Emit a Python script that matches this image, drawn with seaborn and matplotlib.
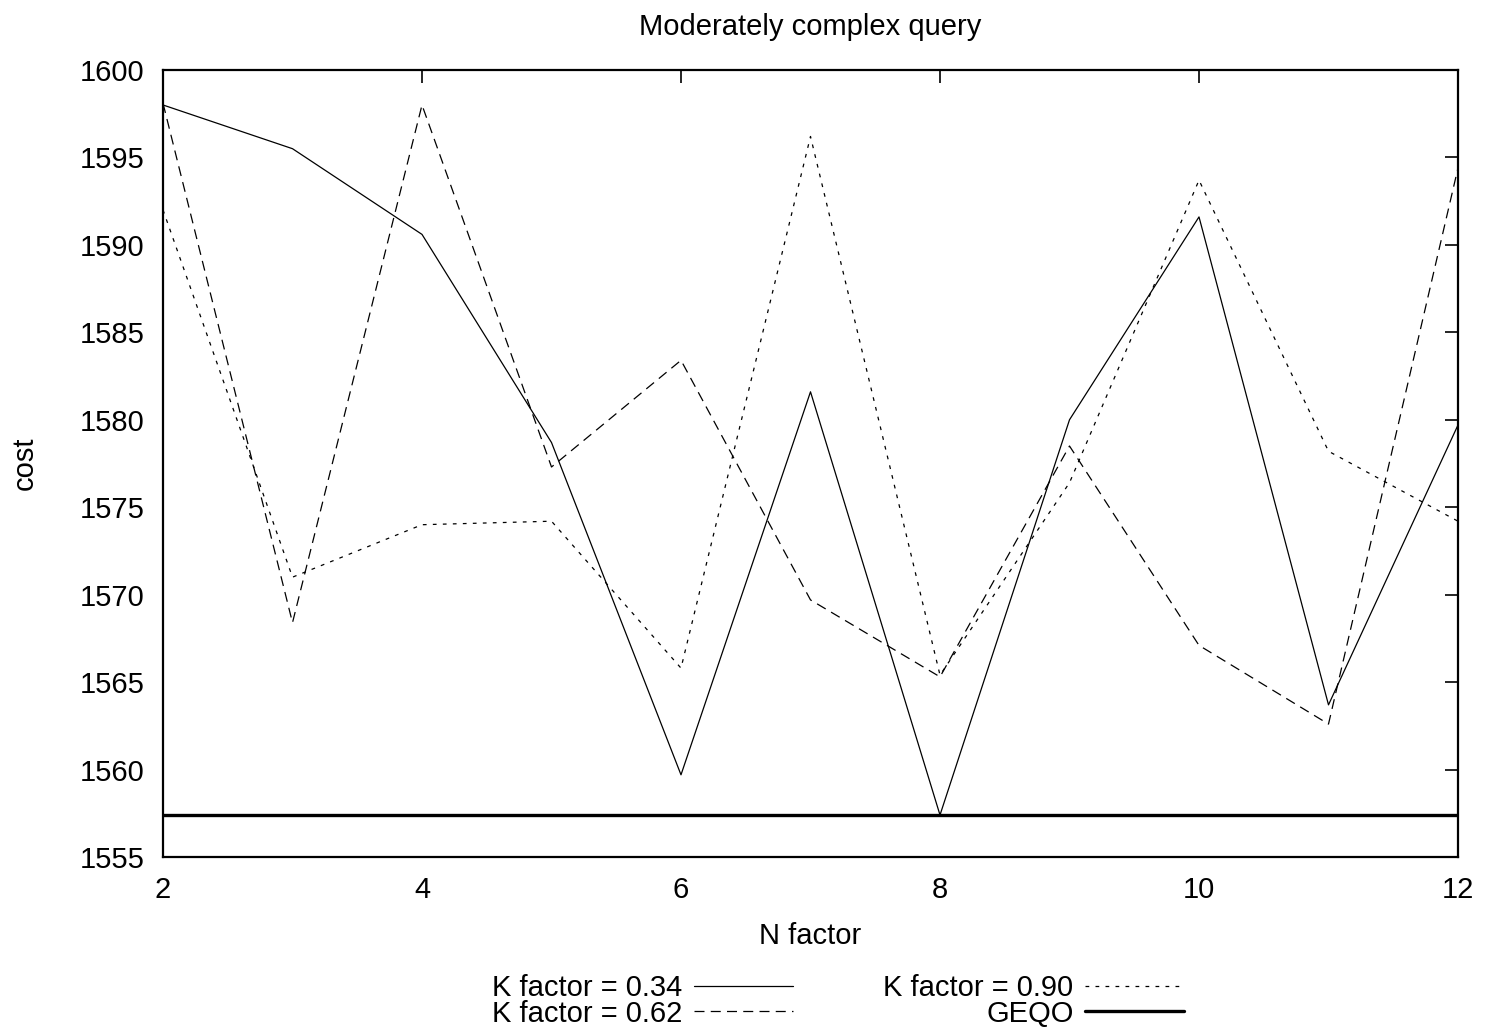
import matplotlib
matplotlib.use("Agg")
import matplotlib.pyplot as plt
import seaborn as sns
import pandas as pd
import numpy as np

# ---- data ----
n_factor = [2, 3, 4, 5, 6, 7, 8, 9, 10, 11, 12]
k034 = [1598.0, 1595.5, 1590.6, 1578.7, 1559.7, 1581.6, 1557.4, 1580.0, 1591.6, 1563.7, 1579.7]
k062 = [1598.1, 1568.4, 1598.0, 1577.3, 1583.4, 1569.7, 1565.3, 1578.5, 1567.1, 1562.6, 1594.4]
k090 = [1592.0, 1571.0, 1574.0, 1574.2, 1565.8, 1596.2, 1565.4, 1576.4, 1593.7, 1578.2, 1574.2]
geqo = 1557.4
series_names = ["K factor = 0.34", "K factor = 0.62", "K factor = 0.90"]

sns.set_theme(style="white")
plt.rcParams["font.family"] = ["Liberation Sans", "DejaVu Sans"]
plt.rcParams["font.size"] = 21
plt.rcParams["text.color"] = "black"
plt.rcParams["axes.labelcolor"] = "black"
plt.rcParams["xtick.color"] = "black"
plt.rcParams["ytick.color"] = "black"

FS = 21

df = pd.DataFrame({
    "N factor": n_factor * 3,
    "cost": k034 + k062 + k090,
    "series": sum([[s] * len(n_factor) for s in series_names], []),
})

fig = plt.figure(figsize=(14.86, 10.32), dpi=100)
ax = fig.add_axes([163 / 1486, 1 - 857 / 1032, (1458 - 163) / 1486, (857 - 70) / 1032])

styles = {
    series_names[0]: "-",
    series_names[1]: (0, (8, 5)),
    series_names[2]: (0, (3, 5)),
}
for name in series_names:
    sub = df[df["series"] == name]
    sns.lineplot(data=sub, x="N factor", y="cost", ax=ax, color="black",
                 linewidth=0.9, linestyle=styles[name], label=name,
                 legend=False)

ax.axhline(geqo, color="black", linewidth=2.4, label="GEQO")

ax.set_xlim(2, 12)
ax.set_ylim(1555, 1600)
ax.set_xticks([2, 4, 6, 8, 10, 12])
ax.set_yticks(np.arange(1555, 1601, 5))
ax.tick_params(direction="in", length=9.5, width=1.2, top=True, right=True,
               labelsize=FS, colors="black")
ax.tick_params(axis="x", pad=14)
ax.tick_params(axis="y", pad=13.5)
for sp in ax.spines.values():
    sp.set_visible(True)
    sp.set_color("black")
    sp.set_linewidth(1.6)

ax.set_title("Moderately complex query", fontsize=FS, pad=25, color="black")
ax.set_xlabel("N factor", fontsize=FS, labelpad=13)
ax.set_ylabel("cost", fontsize=FS, labelpad=29)

handles, labels = ax.get_legend_handles_labels()
order = [labels.index(series_names[0]), labels.index(series_names[1]),
         labels.index(series_names[2]), labels.index("GEQO")]
leg = fig.legend([handles[i] for i in order], [labels[i] for i in order],
                 loc="center", bbox_to_anchor=(0.564, 0.030), ncol=2,
                 markerfirst=False, frameon=False, fontsize=FS,
                 handlelength=3.4, handletextpad=0.4, labelspacing=-0.1,
                 columnspacing=3.1, borderpad=0)

fig.savefig("out.png", dpi=100)
